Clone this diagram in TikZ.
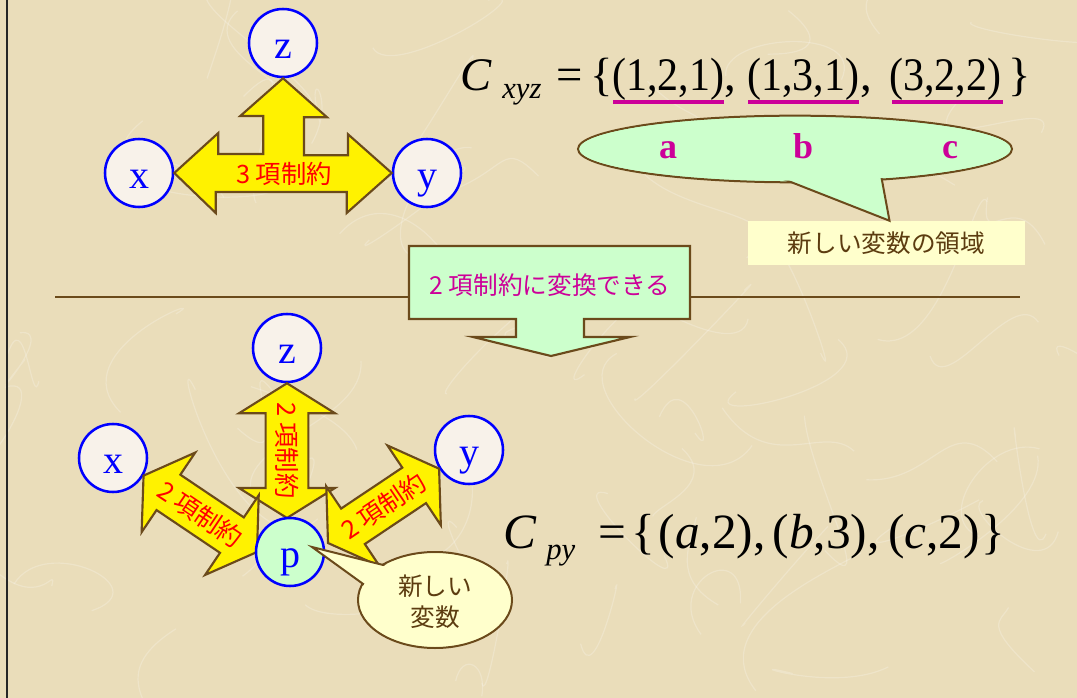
\documentclass[tikz,border=0pt]{standalone}
\usepackage{fontspec}
\setmainfont{Liberation Serif}
\newfontfamily\jpfont{Noto Sans CJK JP}
\usetikzlibrary{calc,shapes.geometric}
\definecolor{paper}{RGB}{234,221,186}
\definecolor{brownline}{RGB}{107,74,27}
\definecolor{browntext}{RGB}{92,60,16}
\definecolor{magent}{RGB}{204,0,153}
\definecolor{mint}{RGB}{204,255,204}
\definecolor{cream}{RGB}{255,255,204}
\definecolor{circfill}{RGB}{248,242,234}
\definecolor{vblue}{RGB}{0,0,255}
\newcommand\blockdbl[5]{%
 \draw[blockarrow] let \p1=($(#2)-(#1)$), \n1={atan2(\y1,\x1)}, \n2={veclen(\x1,\y1)}, \n3={\n2-22.5} in
  (#1) -- ($(#1)+(\n1:22.5pt)+(\n1+90:36pt)$) -- ($(#1)+(\n1:22.5pt)+(\n1+90:16pt)$)
  -- ($(#1)+(\n1:\n3*1pt)+(\n1+90:16pt)$) -- ($(#1)+(\n1:\n3*1pt)+(\n1+90:36pt)$)
  -- (#2)
  -- ($(#1)+(\n1:\n3*1pt)+(\n1-90:36pt)$) -- ($(#1)+(\n1:\n3*1pt)+(\n1-90:16pt)$)
  -- ($(#1)+(\n1:22.5pt)+(\n1-90:16pt)$) -- ($(#1)+(\n1:22.5pt)+(\n1-90:36pt)$) -- cycle;
 \node[arrowlabel, rotate=#5] (#3) at ($(#1)!0.5!(#2)$) {#4};}
\newcommand\tup[1]{\scalebox{0.9}[1]{#1}}
\newcommand\dg[1]{#1\hspace{0.22em}}
\begin{document}
\begin{tikzpicture}[x=0.75pt,y=-0.75pt,
  vcirc/.style={circle, draw=vblue, line width=1.9pt, fill=circfill, minimum size=51pt, inner sep=0pt,
     text=vblue, font=\fontsize{30}{30}\selectfont, text height=23pt, text depth=0pt},
  blockarrow/.style={fill=yellow, draw=brownline, line width=1.6pt, line join=miter},
  arrowlabel/.style={text=red, font=\jpfont\fontsize{19}{19}\selectfont, inner sep=0pt},
  jplabel/.style={font=\jpfont\fontsize{18.5}{23}\selectfont, inner sep=0pt},
  eq/.style={font=\fontsize{35}{35}\selectfont, inner sep=0pt, anchor=base},
  eqb/.style={font=\fontsize{37}{37}\selectfont, inner sep=0pt, anchor=base},
  eqsub/.style={font=\fontsize{23}{23}\selectfont\itshape, inner sep=0pt, anchor=base west},
  uline/.style={draw=magent, line width=3pt},
  calloutline/.style={draw=brownline, line width=1.5pt},
  fibre/.style={draw=white, opacity=0.22, line width=0.9pt},
  abc/.style={text=magent, font=\fontsize{27}{27}\selectfont\bfseries, inner sep=0pt, anchor=base}]
\fill[paper] (0,0) rectangle (1077,698);
\useasboundingbox (0,0) rectangle (1077,698);
\pgfmathsetseed{11}
\foreach \i in {1,...,70}{
  \draw[fibre] (rand*540+540, rand*350+350) .. controls +(rand*70, rand*70) and +(rand*70, rand*70) .. +(rand*140, rand*140);
}
\draw[black!85, line width=1.1pt] (7,0) -- (7,698);

% ---------- top: three-way constraint ----------
\node[vcirc] (z1) at (283,43) {z};
\node[vcirc] (x1) at (139,173) {x};
\node[vcirc] (y1) at (427,173) {y};
\draw[blockarrow] (x1.east) -- ++(44,-40) -- ++(0,21) -- ++(45,0) -- ++(0,-38) -- ++(-23,0)
  -- (z1.south) -- ++(44,39) -- ++(-23,0) -- ++(0,38) -- ++(44,0) -- ++(0,-21)
  -- (y1.west) -- ++(-45,40) -- ++(0,-21) -- ++(-131,0) -- ++(0,21) -- cycle;
\node[arrowlabel] (l3) at (284,174) {\dg{3}項制約};

% ---------- top equation ----------
\node[eq, anchor=base west] (cx) at (460,91) {\textit{C}};
\node[eqsub] (cxs) at (502,99) {xyz};
\node[eq] (eq1) at (570,91) {=};
\node[eq] (lb1) at (602,91) {\{};
\node[eq] (t1) at (668,91) {\tup{(1,2,1)}};
\node[eq, anchor=base west] (cm1) at (724,91) {,};
\node[eq] (t2) at (803,91) {\tup{(1,3,1)}};
\node[eq, anchor=base west] (cm2) at (860,91) {,};
\node[eq] (t3) at (945,91) {\tup{(3,2,2)}};
\node[eq] (rb1) at (1020,91) {\}};
\draw[uline] ($(t1.base)+(-55,11)$) -- ($(t1.base)+(56,11)$);
\draw[uline] ($(t2.base)+(-55,11)$) -- ($(t2.base)+(56,11)$);
\draw[uline] ($(t3.base)+(-53,11)$) -- ($(t3.base)+(58,11)$);

% ---------- top callout ----------
\node[jplabel, fill=cream, minimum width=207.75pt, minimum height=33pt, text=browntext] (dom) at (886.5,243) {新しい変数の領域};
\node[ellipse, calloutline, fill=mint, minimum width=325.5pt, minimum height=50pt, inner sep=0pt] (ell) at (795,149) {};
\coordinate (domtip) at ($(dom.north)+(3,0)$);
\draw[calloutline, fill=mint, line join=miter] ($(ell.center)+(-22,26)$) -- (domtip) -- ($(ell.center)+(86,26)$) -- cycle;
\node[ellipse, fill=mint, minimum width=323pt, minimum height=47.5pt, inner sep=0pt] (ellin) at (ell.center) {};
\node[abc] (la) at (668,159) {a};
\node[abc] (lbb) at (803,159) {b};
\node[abc] (lc) at (950,159) {c};

% ---------- separator and conversion arrow ----------
\coordinate (hl) at (55,297);
\coordinate (hr) at (1020,297);
\draw[brownline, line width=1.5pt] (hl) -- (hr);
\draw[fill=mint, draw=brownline, line width=1.6pt, line join=miter]
  (409,246) -- (690,246) -- (690,319) -- (584,319) -- (584,337) -- (630,337) -- (551,356)
  -- (473,337) -- (516,337) -- (516,319) -- (409,319) -- cycle;
\node[jplabel, text=magent] (conv) at (550,285) {\dg{2}項制約に変換できる};

% ---------- bottom: binary constraints ----------
\node[vcirc] (z2) at (287,348) {z};
\node[vcirc] (x2) at (113,458) {x};
\node[vcirc] (y2) at (469,450) {y};
\coordinate (pc) at (290,552);
\coordinate (vend) at (287,518);
\blockdbl{z2.south}{vend}{lv}{\dg{2}項制約}{-90}
\blockdbl{x2.330}{257,552}{ll}{\dg{2}項制約}{-34}
\blockdbl{y2.212}{328,543}{lr}{\dg{2}項制約}{34}
\node[vcirc, fill=mint] (p2) at (pc) {p};

% ---------- bottom callout ----------
\node[ellipse, calloutline, fill=cream, minimum width=115.5pt, minimum height=72pt, inner sep=0pt] (nv) at (435,600) {};
\coordinate (nvtip) at ($(p2.center)+(22,-5)$);
\draw[calloutline, fill=cream, line join=miter] ($(nv.center)+(-58,-6)$) -- (nvtip) -- ($(nv.center)+(-32,-30)$) -- cycle;
\node[ellipse, fill=cream, minimum width=113pt, minimum height=69.5pt, inner sep=0pt] (nvin) at (nv.center) {};
\node[jplabel, text=browntext, align=center] (nvt) at (435,602) {新しい\\変数};

% ---------- bottom equation ----------
\node[eqb, anchor=base west] (cp) at (503,548) {\textit{C}};
\node[eqsub] (cps) at (546,559) {py};
\node[eqb] (eq2) at (612,548) {=};
\node[eqb] (lb2) at (643,548) {\{};
\node[eqb] (s1) at (706,548) {(\textit{a},2)};
\node[eqb, anchor=base west] (cm3) at (753,548) {,};
\node[eqb] (s2) at (820,548) {(\textit{b},3)};
\node[eqb, anchor=base west] (cm4) at (867,548) {,};
\node[eqb] (s3) at (934,548) {(\textit{c},2)};
\node[eqb] (rb2) at (993,548) {\}};
\end{tikzpicture}
\end{document}
